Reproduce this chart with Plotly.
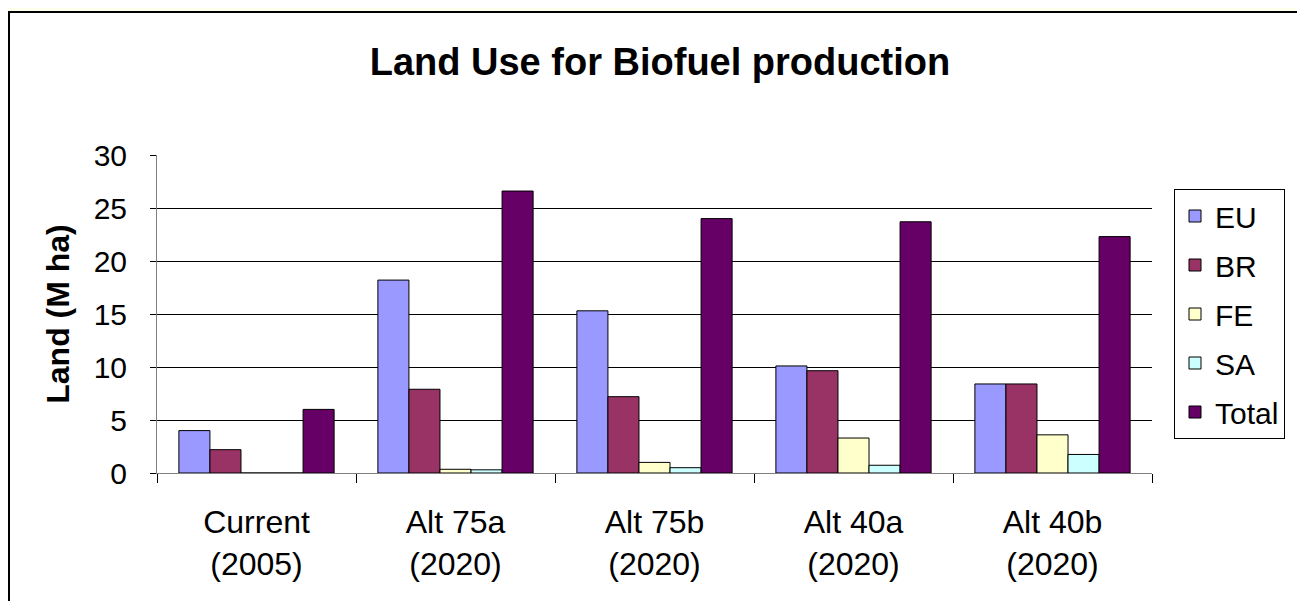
import plotly.graph_objects as go

# ── Datos ──────────────────────────────────────────────────────────────────
categories = ["Current<br>(2005)", "Alt 75a<br>(2020)", "Alt 75b<br>(2020)",
              "Alt 40a<br>(2020)", "Alt 40b<br>(2020)"]
eu = [4.0, 18.2, 15.3, 10.1, 8.4]
br = [2.2, 7.9, 7.2, 9.65, 8.4]
fe = [0.0, 0.35, 1.0, 3.3, 3.6]
sa = [0.0, 0.3, 0.5, 0.73, 1.75]
total = [6.0, 26.6, 24.0, 23.7, 22.3]

series = [
    ("EU", eu, "#9999FF"),
    ("BR", br, "#993366"),
    ("FE", fe, "#FFFFCC"),
    ("SA", sa, "#CCFFFF"),
    ("Total", total, "#660066"),
]

FONT = "Liberation Sans, Arial, sans-serif"

fig = go.Figure()
for name, vals, color in series:
    fig.add_trace(go.Bar(
        x=categories, y=vals, name=name, legendgroup=name,
        marker=dict(color=color, line=dict(color="black", width=1)),
    ))

# marco blanco sobre fondo amarillo claro
fig.add_shape(
    type="rect", xref="paper", yref="paper",
    x0=(1 - 149) / 995, x1=1.25, y0=-0.6, y1=(465 - 4) / 318,
    fillcolor="white", line=dict(color="black", width=2), layer="below",
)

fig.update_layout(
    width=1305, height=601,
    margin=dict(l=149, r=161, t=147, b=136),
    paper_bgcolor="#FFFFEE", plot_bgcolor="white",
    font=dict(family=FONT, color="black", size=30),
    title=dict(text="<b>Land Use for Biofuel production</b>",
               x=652 / 1305, xanchor="center", y=1 - 54 / 601, yanchor="middle",
               font=dict(size=38)),
    barmode="group", bargap=0.22, bargroupgap=0,
    showlegend=True,
    legend=dict(x=(1166 - 149) / 995, xanchor="left", y=0.5, yanchor="middle",
                bgcolor="white", bordercolor="black", borderwidth=1,
                font=dict(size=30), tracegroupgap=7),
)

fig.update_yaxes(
    range=[0, 30], dtick=5, tickmode="linear",
    showgrid=True, gridcolor="black", gridwidth=1,
    zeroline=False, showline=True, linecolor="#808080", linewidth=1,
    ticks="outside", ticklen=6, tickcolor="black",
    tickfont=dict(size=30), ticklabelstandoff=17,
    title=dict(text="<b>Land (M ha)</b>", font=dict(size=32), standoff=14),
)
fig.update_xaxes(
    showline=True, linecolor="#808080", linewidth=1,
    ticks="outside", ticklen=9, tickcolor="black", tickson="boundaries",
    tickfont=dict(size=32), ticklabelstandoff=21,
)

fig.write_html("out.html")
